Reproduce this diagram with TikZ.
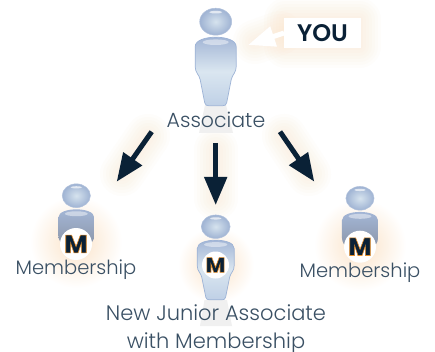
\documentclass[tikz,border=0pt]{standalone}
\usepackage{fontspec}
\setmainfont{Poppins Light}[BoldFont=Poppins SemiBold]
\newfontfamily\markfont{Poppins ExtraBold}
\usetikzlibrary{arrows.meta}
\definecolor{navy}{HTML}{0A2136}
\definecolor{txt}{HTML}{3A5064}
\definecolor{glowc}{HTML}{FBE3C8}
\definecolor{bodyedge}{HTML}{9DB3D6}
\definecolor{bodytop}{HTML}{A3B6D6}
\definecolor{bodymid}{HTML}{DAE6F0}
\definecolor{bodylow}{HTML}{BFD0E6}
\definecolor{bodygrey}{HTML}{8A94A6}
\definecolor{headedge}{HTML}{9FB3D3}
\definecolor{headmid}{HTML}{D6E3EE}
\definecolor{refl}{HTML}{F0F0F0}
\tikzset{
  x=1pt,y=-1pt,
  every node/.style={inner sep=0pt,outer sep=0pt},
  lab/.style={text=txt,align=center},
  labM/.style={lab,font=\fontsize{19.5}{28}\selectfont},
  labA/.style={lab,font=\fontsize{20.5}{28}\selectfont},
  labJ/.style={lab,font=\fontsize{21}{28}\selectfont},
  arrowline/.style={draw=navy,line width=5pt,-{Triangle[length=28pt,width=22pt,fill=navy]}},
  youarrow/.style={draw=white,line width=5pt,-{Triangle[length=27pt,width=20pt,fill=white]}},
  badge/.style={circle,fill=white,text=navy},
  youbox/.style={fill=white,text=navy,font=\fontsize{24}{24}\selectfont\bfseries,minimum width=77pt,minimum height=30pt},
  softglow/.style={inner color=glowc,outer color=white,draw=none}
}
\newcommand{\bodypath}{
  (-20.5,25) .. controls (-20.5,18) and (-9,15.5) .. (0,15.5)
  .. controls (9,15.5) and (20.5,18) .. (20.5,25)
  -- (20.5,45) .. controls (20.5,51) and (16.5,53) .. (15.5,58)
  -- (11,81) .. controls (10.5,83.5) and (9,84) .. (7,84)
  -- (-7,84) .. controls (-9,84) and (-10.5,83.5) .. (-11,81)
  -- (-15.5,58) .. controls (-16.5,53) and (-20.5,51) .. (-20.5,45) -- cycle}
\newcommand{\headball}{
  \shade[inner color=headmid,outer color=headedge] (0,0) ellipse [x radius=16,y radius=13.5];
  \draw[headedge!80!white,line width=.5pt] (0,0) ellipse [x radius=16,y radius=13.5];
  \fill[white,opacity=.65] (0,-9.5) ellipse [x radius=6.5,y radius=1.3];}
\newcommand{\shoulder}{\fill[white,opacity=.45] (0,20.5) ellipse [x radius=13,y radius=2.8];}
\newcommand{\fullperson}[4]{
  \begin{scope}[shift={(#1,#2)},xscale=#3,yscale=#4]
    \headball
    \shade[top color=bodytop,bottom color=bodylow,middle color=bodymid] \bodypath;
    \draw[bodyedge,line width=.7pt] \bodypath;
    \shoulder
  \end{scope}}
\newcommand{\cutperson}[3]{
  \begin{scope}[shift={(#1,#2)},xscale=#3,yscale=#3]
    \headball
    \begin{scope}
      \clip \bodypath;
      \shade[top color=bodytop,bottom color=bodygrey] (-21,15.5) rectangle (21,58);
    \end{scope}
    \shoulder
  \end{scope}}
\newcommand{\Mmark}{\special{pdf:code q 2 Tr 0.6 w 0.91 0.56 0.16 RG}M\special{pdf:code 0 Tr Q}}
\begin{document}
\begin{tikzpicture}
\useasboundingbox (0,0) rectangle (435,352);
\fill[white] (0,0) rectangle (435,352);

% glows
\foreach \w in {44,38,32,26,20,14,8}{
  \draw[glowc,opacity=.07,line width=\w pt,line cap=round] (255,42) -- (280,33);
  \draw[glowc,opacity=.07,line width=\w pt,line join=round] (286,20) rectangle (359,46);
  \draw[glowc,opacity=.07,line width=\w pt,line cap=round] (148,136) -- (122,174);
  \draw[glowc,opacity=.07,line width=\w pt,line cap=round] (216,150) -- (216,198);
  \draw[glowc,opacity=.07,line width=\w pt,line cap=round] (284,136) -- (309,174);
}
\shade[softglow] (76,242) circle (46);
\shade[softglow] (216,265) circle (38);
\shade[softglow] (360,245) circle (46);

% reflections
\fill[refl] (205,105) -- (226,105) -- (233,133) -- (199,133) -- cycle;
\fill[refl] (204.5,300) -- (227,300) -- (232,326) -- (200,326) -- cycle;

% people
\fullperson{215.7}{21.7}{1}{1}
\fullperson{215.7}{226.7}{.9}{.87}
\cutperson{76.3}{195.7}{.88}
\cutperson{360}{198.3}{.88}

% badges
\node[badge,minimum size=32pt,font=\fontsize{25}{25}\markfont] (bL) at (76,244) {\Mmark};
\node[badge,minimum size=32pt,font=\fontsize{25}{25}\markfont] (bR) at (360,246.7) {\Mmark};
\node[badge,minimum size=27pt,font=\fontsize{21}{21}\markfont] (bM) at (215.5,265) {\Mmark};

% labels
\node[labA] (assoc) at (216,120) {Associate};
\node[labM] (memL) at (76,270) {Membership};
\node[labM] (memR) at (360,272.5) {Membership};
\node[labJ] (junior) at (216,329.5) {New Junior Associate\\with Membership};

% YOU
\node[youbox] (you) at (322.5,33) {YOU};
\coordinate (youTip) at (248,45);
\draw[youarrow] (you.west) -- (youTip);

% arrows
\coordinate (sL) at (151.7,131.7);
\coordinate (tL) at (116.7,181.7);
\coordinate (sM) at (215.7,143);
\coordinate (tM) at (215.7,205);
\coordinate (sR) at (280,131.7);
\coordinate (tR) at (314.3,181.7);
\draw[arrowline] (sL) -- (tL);
\draw[arrowline] (sM) -- (tM);
\draw[arrowline] (sR) -- (tR);
\end{tikzpicture}
\end{document}
